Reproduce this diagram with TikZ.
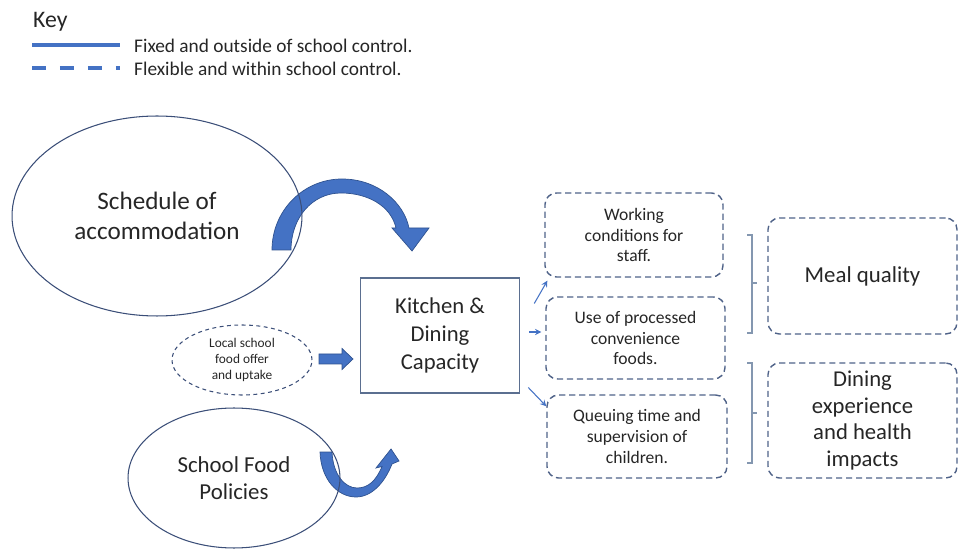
\documentclass[tikz,border=0pt]{standalone}
\usepackage{fontspec}
\setmainfont{Carlito}
\usepackage{xcolor}
\usepackage{tikz}
\usetikzlibrary{calc,shapes.geometric,arrows}

\definecolor{lineblue}{HTML}{3B4E78}
\definecolor{dashblue}{HTML}{4F6288}
\definecolor{boxblue}{HTML}{5B6F90}
\definecolor{fillblue}{HTML}{4472C4}
\definecolor{edgeblue}{HTML}{2F528F}
\definecolor{brackgray}{HTML}{8497B0}
\definecolor{txt}{HTML}{262626}

\begin{document}
\begin{tikzpicture}[x=0.02cm, y=0.02cm, >=stealth,
        oval/.style={ellipse, draw=lineblue, line width=0.6pt, inner sep=0pt,
            align=center, text=txt},
        dbox/.style={rectangle, rounded corners=6.5pt, draw=dashblue, line width=0.8pt,
            dash pattern=on 3.5pt off 2.2pt, align=center, text=txt, inner sep=0pt},
        blockarrow/.style={fill=fillblue, draw=edgeblue, line width=0.4pt},
        small/.style={->, draw=fillblue, line width=0.6pt},
        brack/.style={draw=brackgray, line width=0.6pt}]

    \useasboundingbox (0,0) rectangle (959,-553);

    % key
    \node[anchor=base west, text=txt, font=\fontsize{13.5}{16}\selectfont] (key) at (27,-28) {Key};
    \draw[fillblue, line width=2.2pt] (32,-45) -- (120,-45);
    \draw[fillblue, line width=2.2pt, dash pattern=on 8pt off 7.9pt] (32,-68) -- (120,-68);
    \node[anchor=west, text=txt, font=\fontsize{11}{13}\selectfont] (fixed) at (128,-46)
        {Fixed and outside of school control.};
    \node[anchor=west, text=txt, font=\fontsize{11}{13}\selectfont] (flex) at (128,-69)
        {Flexible and within school control.};

    % curved block arrows (under the ellipses)
    \path[blockarrow] (272,-250) .. controls (272,-211) and (303,-179) .. (342,-179)
        .. controls (378,-179) and (404,-203) .. (409,-228)
        -- (429,-228) -- (412,-251) -- (392,-228) -- (396,-228)
        .. controls (391,-206) and (368,-193) .. (341,-193)
        .. controls (312,-193) and (291,-218) .. (291,-250) -- cycle;
    \path[blockarrow] (320,-452) .. controls (321,-480) and (338,-497) .. (356,-497)
        .. controls (372,-497) and (385,-482) .. (392,-464)
        -- (399,-461) -- (391,-449) -- (376,-468) -- (382,-466.5)
        .. controls (376,-481) and (368,-488) .. (357,-488)
        .. controls (345,-488) and (333,-475) .. (332,-452) -- cycle;

    % left side
    \node[oval, minimum width=5.8cm, minimum height=4cm,
        font=\fontsize{14.3}{17}\selectfont] (sched) at (157,-216) {Schedule of\\accommodation};
    \node[oval, dash pattern=on 2.2pt off 2pt, minimum width=2.8cm, minimum height=1.4cm,
        font=\fontsize{7.6}{9}\selectfont] (local) at (242,-360) {Local school\\food offer\\and uptake};
    \node[oval, minimum width=4.24cm, minimum height=2.8cm,
        font=\fontsize{13}{15.3}\selectfont] (policy) at (234,-478) {School Food\\Policies};

    \node[rectangle, draw=boxblue, line width=0.9pt, minimum width=3.18cm, minimum height=2.3cm,
        align=center, text=txt, font=\fontsize{12.9}{15.9}\selectfont] (kitchen) at (440,-335.5)
        {Kitchen \&\\Dining\\Capacity};

    \path[blockarrow] (319,-354) -- (342,-354) -- (342,-348.5) -- (353,-359)
        -- (342,-369.5) -- (342,-364) -- (319,-364) -- cycle;

    % factors
    \node[dbox, minimum width=3.56cm, minimum height=1.68cm,
        font=\fontsize{10}{11.9}\selectfont] (work) at (634,-235) {Working\\conditions for\\staff.};
    \node[dbox, minimum width=3.58cm, minimum height=1.64cm,
        font=\fontsize{10}{11.9}\selectfont] (proc) at (635.5,-338) {Use of processed\\convenience\\foods.};
    \node[dbox, minimum width=3.6cm, minimum height=1.66cm,
        font=\fontsize{10}{11.9}\selectfont] (queue) at (637,-436.5) {Queuing time and\\supervision of\\children.};

    \draw[small] ($(kitchen.east)+(14,32)$) -- ($(work.south west)+(3,-3)$);
    \draw[small] ($(kitchen.east)+(9,3.5)$) -- ($(proc.west)+(-4,6)$);
    \draw[small] ($(kitchen.east)+(8,-52)$) -- ($(queue.north west)+(0,-12)$);

    % outcomes
    \node[dbox, minimum width=3.78cm, minimum height=2.32cm,
        font=\fontsize{13}{15.3}\selectfont] (meal) at (862.5,-276) {Meal quality};
    \node[dbox, minimum width=3.78cm, minimum height=2.3cm,
        font=\fontsize{12.9}{15.3}\selectfont] (dining) at (862.5,-420.5)
        {Dining\\experience\\and health\\impacts};

    \draw[brack] (747,-235) -- (752,-235) -- (752,-333) -- (747,-333);
    \draw[brack] (752,-283) -- (757,-283);
    \draw[brack] (747,-363) -- (752,-363) -- (752,-463) -- (747,-463);
    \draw[brack] (752,-413) -- (757,-413);

\end{tikzpicture}
\end{document}
